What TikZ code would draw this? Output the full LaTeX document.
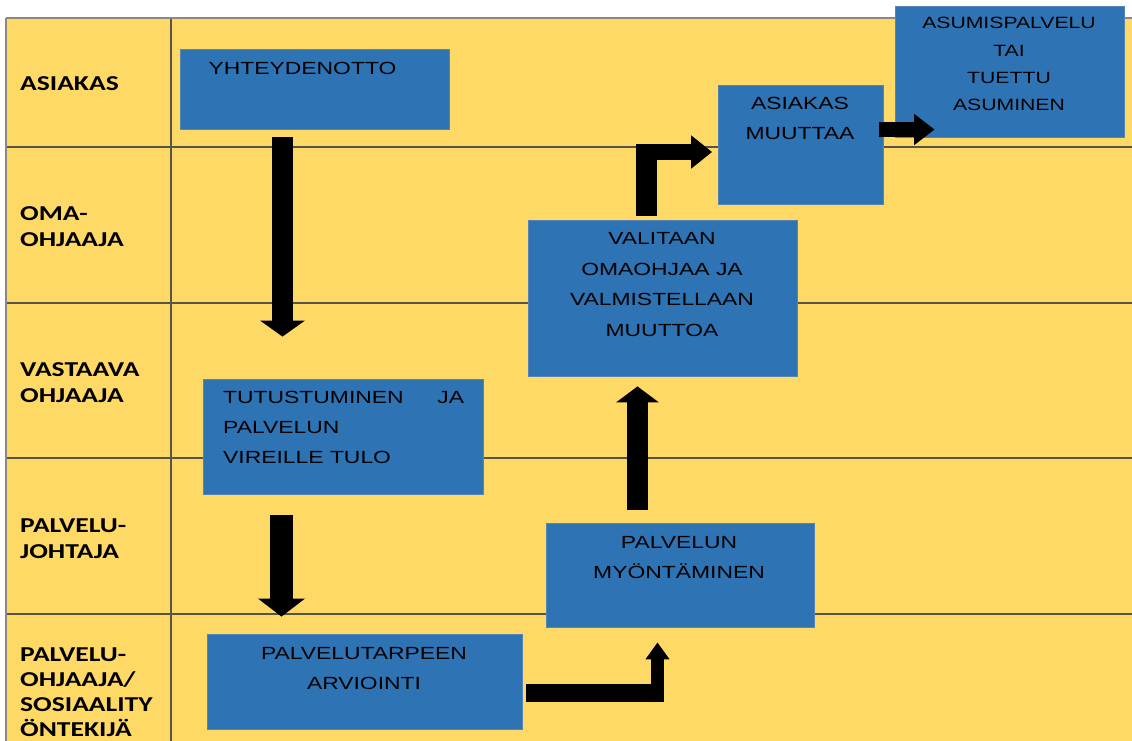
\documentclass[tikz,border=0pt]{standalone}
\usepackage{fontspec}
\newfontfamily\boxfont[FakeStretch=1.3]{Liberation Sans}
\newfontfamily\lblfont[FakeStretch=1.3]{Carlito}
\usetikzlibrary{arrows.meta,calc}
\definecolor{lane}{HTML}{FFD966}
\definecolor{boxblue}{HTML}{2E74B5}
\definecolor{boxedge}{HTML}{5584B8}
\definecolor{gridline}{HTML}{55554A}
\definecolor{outerline}{HTML}{8A8A80}
\newcommand\ctrlines[1]{\vtop{\halign{\hfil##\hfil\cr#1\crcr}}}
\newcommand\leftlines[1]{\vtop{\halign{##\hfil\cr#1\crcr}}}
\begin{document}
\begin{tikzpicture}[x=1pt,y=-1pt,
  stepbox/.style={rectangle, fill=boxblue, draw=boxedge, line width=0.8pt, inner sep=0pt},
  boxtext/.style={font=\boxfont\fontsize{17.6}{30}\selectfont, inner sep=0pt, text=black},
  lanelabel/.style={font=\lblfont\bfseries\fontsize{21.2}{26}\selectfont, inner sep=0pt, anchor=base west, text=black},
  blockarrow/.style={black, line width=21pt},
]
\useasboundingbox (0,0) rectangle (1132,740);
\clip (0,0) rectangle (1132,740);
\fill[white] (0,0) rectangle (1132,740);
% lanes
\fill[lane] (6,18) rectangle (1140,750);
\draw[gridline, line width=1.3pt] (6,147) -- (1140,147);
\draw[gridline, line width=1.3pt] (6,303) -- (1140,303);
\draw[gridline, line width=1.3pt] (6,458) -- (1140,458);
\draw[gridline, line width=1.3pt] (6,614) -- (1140,614);
\draw[gridline, line width=1.3pt] (171,18) -- (171,750);
\draw[outerline, line width=1.3pt] (6,18) -- (1140,18);
\draw[outerline, line width=1.3pt] (6,18) -- (6,750);
% lane labels
\node[lanelabel] (l1) at (20,90) {ASIAKAS};
\node[lanelabel] (l2) at (20,220) {\leftlines{OMA-\cr OHJAAJA}};
\node[lanelabel] (l3) at (20,376) {\leftlines{VASTAAVA\cr OHJAAJA}};
\node[lanelabel] (l4) at (20,532.5) {\leftlines{PALVELU-\cr JOHTAJA}};
{\lineskiplimit=-10pt
\node[lanelabel, font=\lblfont\bfseries\fontsize{21.2}{25.3}\selectfont] (l5) at (20,661) {\leftlines{PALVELU-\cr OHJAAJA/\cr SOSIAALITY\cr ÖNTEKIJÄ}};}
% boxes
\node[stepbox, minimum width=269pt, minimum height=80pt] (yht) at (314.5,89) {};
\node[stepbox, minimum width=280pt, minimum height=115pt] (tut) at (343,436.5) {};
\node[stepbox, minimum width=315pt, minimum height=95pt] (arv) at (364.5,681.5) {};
\node[stepbox, minimum width=268pt, minimum height=104pt] (myo) at (680,575) {};
\node[stepbox, minimum width=269pt, minimum height=156pt] (val) at (662.5,298) {};
\node[stepbox, minimum width=165pt, minimum height=119pt] (muu) at (800.5,144.5) {};
\node[stepbox, minimum width=229pt, minimum height=131pt] (asu) at (1009.5,71.5) {};
% box texts
\node[boxtext, anchor=base] (tyht) at (302.5,74.5) {YHTEYDENOTTO};
\node[boxtext, anchor=base west] (ttut) at (223,403.5) {\vtop{\hbox to 241pt{TUTUSTUMINEN\hfil JA}\hbox{PALVELUN}\hbox{VIREILLE TULO}}};
\node[boxtext, anchor=base] (tarv) at (364,659.5) {\ctrlines{PALVELUTARPEEN\cr ARVIOINTI}};
\node[boxtext, anchor=base] (tmyo) at (679,548.5) {\ctrlines{PALVELUN\cr MYÖNTÄMINEN}};
\node[boxtext, anchor=base, font=\boxfont\fontsize{17.6}{30.5}\selectfont] (tval) at (662,244.5) {\ctrlines{VALITAAN\cr OMAOHJAA JA\cr VALMISTELLAAN\cr MUUTTOA}};
\node[boxtext, anchor=base] (tmuu) at (800,109.5) {\ctrlines{ASIAKAS\cr MUUTTAA}};
\node[boxtext, anchor=base, font=\boxfont\fontsize{16.3}{27.3}\selectfont] (tasu) at (1009,28.8) {\ctrlines{ASUMISPALVELU\cr TAI\cr TUETTU\cr ASUMINEN}};
% arrow guide coordinates
\coordinate (a1) at (282.5,0);
\coordinate (a2) at (281.5,0);
\coordinate (b3) at (657.5,693);
\coordinate (a4) at (637.5,0);
\coordinate (b5) at (646.5,152);
\coordinate (a6) at (0,129.5);
% arrows
\draw[blockarrow, -{Triangle[width=44pt,length=16pt]}, shorten <=8pt, shorten >=42pt]
  (yht.south -| a1) -- (tut.north -| a1);
\draw[blockarrow, line width=23pt, -{Triangle[width=46pt,length=18pt]}, shorten <=21pt, shorten >=17pt]
  (tut.south -| a2) -- (arv.north -| a2);
\draw[black, line width=18pt, shorten <=4pt] (arv.east |- b3) -- ($(b3)+(6.5,0)$);
\draw[black, line width=13pt, -{Triangle[width=23pt,length=17pt]}, shorten >=15pt]
  ($(b3)+(0,9)$) -- (myo.south -| b3);
\draw[blockarrow, -{Triangle[width=42pt,length=16pt]}, shorten <=13pt, shorten >=10pt]
  (myo.north -| a4) -- (val.south -| a4);
\draw[blockarrow, shorten <=4pt] (val.north -| b5) -- ($(b5)+(0,-8)$);
\draw[black, line width=16pt, -{Triangle[width=32pt,length=21pt]}, shorten >=5.5pt]
  ($(b5)+(-10.5,0)$) -- (muu.west |- b5);
\draw[black, line width=15pt, -{Triangle[width=30pt,length=20.5pt]}]
  ($(muu.east |- a6)+(-4,0)$) -- ($(asu.west |- a6)+(40,0)$);
\end{tikzpicture}
\end{document}
